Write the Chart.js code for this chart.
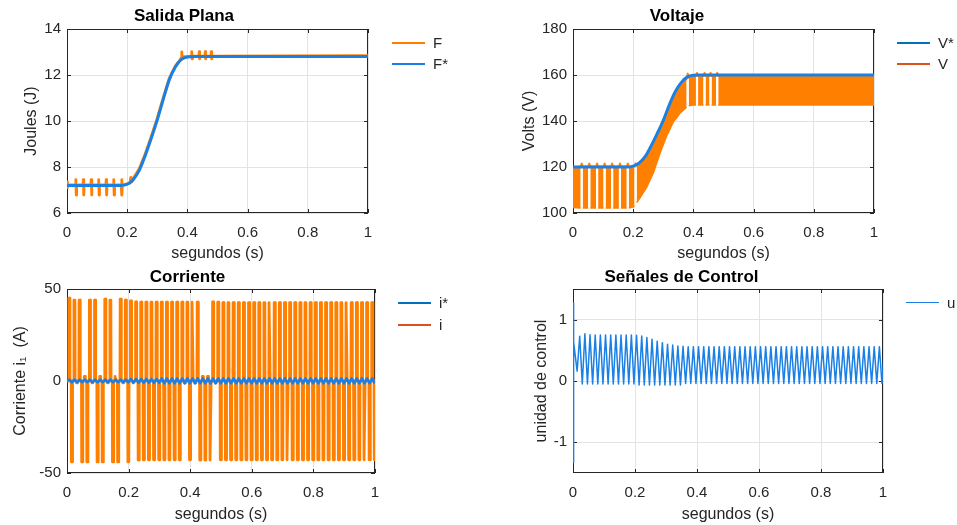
<!DOCTYPE html>
<html>
<head>
<meta charset="utf-8">
<script src="https://cdn.jsdelivr.net/npm/chart.js@4.4.1/dist/chart.umd.min.js"></script>
<style>
  body { margin: 0; background: #fff; }
  #lienzo { position: relative; width: 957px; height: 525px; font-family: 'Liberation Sans', Arial, sans-serif; color: #262626; }
  canvas { position: absolute; }
  .linea { position: absolute; height: 2px; width: 33px; }
  .texto { position: absolute; font-size: 15px; line-height: 18px; }
</style>
</head>
<body>
<div id="lienzo">
  <canvas id="salida" width="480" height="262" style="left:0;top:0"></canvas>
  <canvas id="voltaje" width="477" height="262" style="left:480px;top:0"></canvas>
  <canvas id="corriente" width="480" height="263" style="left:0;top:262px"></canvas>
  <canvas id="control" width="477" height="263" style="left:480px;top:262px"></canvas>

  <div class="linea" style="left:392px;top:42px;background:#FF8000"></div><div class="texto" style="left:433px;top:34px">F</div>
  <div class="linea" style="left:392px;top:63px;background:#1A80E6"></div><div class="texto" style="left:433px;top:55px">F*</div>

  <div class="linea" style="left:897px;top:42px;background:#0072BD"></div><div class="texto" style="left:938px;top:34px">V*</div>
  <div class="linea" style="left:897px;top:63px;background:#D95319"></div><div class="texto" style="left:938px;top:55px">V</div>

  <div class="linea" style="left:398px;top:302px;background:#0072BD"></div><div class="texto" style="left:439px;top:294px">i*</div>
  <div class="linea" style="left:398px;top:324px;background:#D95319"></div><div class="texto" style="left:439px;top:316px">i</div>

  <div class="linea" style="left:906px;top:302px;height:1px;background:#1A80E6"></div><div class="texto" style="left:947px;top:294px">u</div>
</div>
<script>
// ticks
const xTicks = [0, 0.2, 0.4, 0.6, 0.8, 1];
const fTicks = [6, 8, 10, 12, 14];
const vTicks = [100, 120, 140, 160, 180];
const iTicks = [-50, 0, 50];
const uTicks = [-1, 0, 1];

// referencias F* y V*
const refT = [0, 0.18, 0.20, 0.22, 0.24, 0.26, 0.28, 0.30, 0.32, 0.34, 0.36, 0.38, 0.40, 0.42, 1.0];
const fRef = [7.2, 7.2, 7.25, 7.45, 7.85, 8.5, 9.25, 10.05, 10.95, 11.8, 12.35, 12.68, 12.78, 12.8, 12.8];
const vRef = [120, 120, 120.4, 121.8, 124.6, 129.3, 134.6, 140.3, 147, 152.8, 156.8, 159.2, 159.9, 160, 160];

// salida plana F
const fT = [0, 0.001, 0.002,
  0.028, 0.0293, 0.0307, 0.032,
  0.053, 0.0543, 0.0557, 0.057,
  0.079, 0.0803, 0.0817, 0.083,
  0.104, 0.1053, 0.1067, 0.108,
  0.129, 0.1303, 0.1317, 0.133,
  0.154, 0.1553, 0.1567, 0.158,
  0.180, 0.1813, 0.1827, 0.184,
  0.200, 0.209, 0.212, 0.215, 0.220, 0.240, 0.260, 0.280, 0.300, 0.320, 0.340, 0.360, 0.376,
  0.380, 0.3813, 0.3827, 0.384,
  0.398,
  0.413, 0.4143, 0.4157, 0.417,
  0.438, 0.4393, 0.4407, 0.442,
  0.458, 0.4593, 0.4607, 0.462,
  0.478, 0.4793, 0.4807, 0.482,
  1.0];
const fV = [7.35, 7.1, 7.22,
  7.22, 7.45, 6.78, 7.22,
  7.22, 7.45, 6.78, 7.22,
  7.22, 7.45, 6.78, 7.22,
  7.22, 7.45, 6.78, 7.22,
  7.22, 7.45, 6.78, 7.22,
  7.22, 7.45, 6.78, 7.22,
  7.22, 7.45, 6.78, 7.22,
  7.27, 7.3, 7.55, 7.35, 7.5, 7.92, 8.58, 9.33, 10.13, 11.03, 11.86, 12.4, 12.66,
  12.75, 13.0, 12.7, 12.8,
  12.8,
  12.82, 13.02, 12.7, 12.82,
  12.82, 13.02, 12.7, 12.82,
  12.82, 13.02, 12.7, 12.82,
  12.82, 13.02, 12.7, 12.82,
  12.84];

// voltaje V: envolvente alta y baja (null = hueco)
const vT = [0, 0.0255, 0.029, 0.0325,
  0.0505, 0.054, 0.0575,
  0.0765, 0.080, 0.0835,
  0.1015, 0.105, 0.1085,
  0.1265, 0.130, 0.1335,
  0.1525, 0.156, 0.1595,
  0.1785, 0.182, 0.1855,
  0.2045, 0.208, 0.2115,
  0.222, 0.244, 0.267, 0.289, 0.311, 0.333, 0.356,
  0.3775, 0.381, 0.3845,
  0.400,
  0.4085, 0.412, 0.4155,
  0.4335, 0.437, 0.4405,
  0.4535, 0.457, 0.4605,
  0.4755, 0.479, 0.4825,
  1.0];
const vAlto = [119.8, 120.2, 121.5, 120.2,
  120.2, 121.5, 120.2,
  120.2, 121.5, 120.2,
  120.2, 121.5, 120.2,
  120.2, 121.5, 120.2,
  120.2, 121.5, 120.2,
  120.2, 121.5, 120.2,
  120.3, 121.6, 120.6,
  121.2, 124.7, 130.3, 136.3, 143.1, 150, 155.3,
  158.3, 160.6, 158.8,
  159.5,
  159.6, 160.9, 159.6,
  159.6, 160.9, 159.6,
  159.6, 160.9, 159.6,
  159.6, 160.9, 159.6,
  159.6];
const vBajo = [102.4, 102.2, null, 102.2,
  102.2, null, 102.2,
  102.2, null, 102.2,
  102.2, null, 102.2,
  102.2, null, 102.2,
  102.2, null, 102.2,
  102.2, null, 102.2,
  102.8, null, 104.5,
  106.5, 111, 117.5, 126, 133.5, 139.5, 143.5,
  146, null, 146.6,
  147,
  147, null, 147,
  147, null, 147,
  147, null, 147,
  147, null, 147,
  147];

// corriente i: pulsos positivos y negativos por ciclo
const iPos = [45, 44, 44, 2.5, 44, 44, 2.5, 44.5, 44, 2.5,
  44.5, 44, 43.5, 43, 42.8, 42.8, 42.8, 42.8, 42.8, 42.8,
  42.8, 42.8, 42.8, 42.8, 42.8, 42.8, 2.5, 2.5, 43, 42.8,
  42.6, 42.6, 42.6, 42.6, 42.6, 42.6, 42.6, 42.6, 42.6, 42.6,
  42.6, 42.6, 42.6, 42.6, 42.6, 42.6, 42.6, 42.6, 42.6, 42.6,
  42.6, 42.6, 42.6, 42.6, 42.6, 42.6, 42.6, 42.6, 42.6, 42.6];
const iNeg = [-44, -1, -44, -44, -1, -44, -44, -1, -44, -44,
  -1, -44, -1, -43, -42.8, -42.8, -42.8, -42.8, -42.8, -42.8,
  -42.8, -42.8, -1, -42.8, -1, -43, -43, -43, -1, -42.8,
  -42.8, -42.8, -42.8, -42.8, -42.8, -42.8, -42.8, -42.8, -42.8, -42.8,
  -42.8, -42.8, -42.8, -42.8, -42.8, -42.8, -42.8, -42.8, -42.8, -42.8,
  -42.8, -42.8, -42.8, -42.8, -42.8, -42.8, -42.8, -42.8, -42.8, -42.8];

// corriente de referencia i*
const iRefPos = [0.8, 0.8, 0.8, 0.8, 0.8, 0.8, 0.8, 0.8, 0.8, 0.8,
  0.8, 0.8, 1.1, 1.1, 1.1, 1.1, 1.1, 1.1, 1.4, 1.4,
  1.4, 1.4, 1.4, 1.4, 1.4, 1.4, 1.4, 1.4, 1.4, 1.4,
  1.4, 1.4, 1.4, 1.4, 1.4, 1.4, 1.4, 1.4, 1.4, 1.4,
  1.4, 1.4, 1.4, 1.4, 1.4, 1.4, 1.4, 1.4, 1.4, 1.4,
  1.4, 1.4, 1.4, 1.4, 1.4, 1.4, 1.4, 1.4, 1.4, 1.4];
const iRefNeg = [-0.7, -0.7, -0.7, -0.7, -0.7, -0.7, -0.7, -0.7, -0.7, -0.7,
  -0.7, -0.7, -1, -1, -1, -1, -1, -1, -1.3, -1.3,
  -1.3, -1.3, -1.3, -1.3, -1.3, -1.3, -1.3, -1.3, -1.3, -1.3,
  -1.3, -1.3, -1.3, -1.3, -1.3, -1.3, -1.3, -1.3, -1.3, -1.3,
  -1.3, -1.3, -1.3, -1.3, -1.3, -1.3, -1.3, -1.3, -1.3, -1.3,
  -1.3, -1.3, -1.3, -1.3, -1.3, -1.3, -1.3, -1.3, -1.3, -1.3];

// señal de control u
const uInicioT = [0, 0.0008, 0.003];
const uInicioV = [1.27, -1.33, 0.64];
const uValle = [0.16, -0.05, -0.05, -0.05, -0.05, -0.05, -0.05, -0.05, -0.05, -0.05,
  -0.05, -0.05, -0.065, -0.065, -0.065, -0.065, -0.065, -0.065, -0.065, -0.065,
  -0.065, -0.04, -0.04, -0.04, -0.04, -0.04, -0.04, -0.04, -0.04, -0.04,
  -0.04, -0.04, -0.04, -0.04, -0.04, -0.04, -0.04, -0.04, -0.04, -0.04,
  -0.04, -0.04, -0.04, -0.04, -0.04, -0.04, -0.04, -0.04, -0.04, -0.04,
  -0.04, -0.04, -0.04, -0.04, -0.04, -0.04, -0.04, -0.04, -0.04, -0.04];
const uPico = [0.73, 0.77, 0.755, 0.75, 0.75, 0.75, 0.75, 0.75, 0.75, 0.75,
  0.75, 0.745, 0.735, 0.71, 0.68, 0.65, 0.625, 0.6, 0.585, 0.57,
  0.565, 0.56, 0.56, 0.56, 0.56, 0.56, 0.56, 0.56, 0.56, 0.56,
  0.56, 0.56, 0.56, 0.56, 0.56, 0.56, 0.56, 0.56, 0.56, 0.56,
  0.56, 0.56, 0.56, 0.56, 0.56, 0.56, 0.56, 0.56, 0.56, 0.56,
  0.56, 0.56, 0.56, 0.56, 0.56, 0.56, 0.56, 0.56, 0.56, 0.56];

const PERIODO = 1 / 60;
const FUENTE = "'Liberation Sans', Arial, Helvetica, sans-serif";
const NARANJA = '#FF8000';
const AZUL = '#1A80E6';

function pares(ts, vs) {
    return ts.map((t, k) => ({ x: t, y: vs[k] }));
}

// dos valores por ciclo, alternados
function zigzag(a, b, t0, inicio) {
    const pts = inicio.slice();
    a.forEach((v, k) => {
        pts.push({ x: t0 + k * PERIODO, y: v });
        pts.push({ x: t0 + k * PERIODO + PERIODO / 2, y: b[k] });
    });
    return pts;
}

// pulsos desde cero, uno por medio ciclo
function pulsos(a, b, t0) {
    const pts = [{ x: 0, y: 0 }];
    a.forEach((v, k) => {
        [[t0 + k * PERIODO, v], [t0 + k * PERIODO + PERIODO / 2, b[k]]].forEach(([t, y]) => {
            pts.push({ x: t - 0.0022, y: 0 }, { x: t - 0.0015, y: y }, { x: t + 0.0015, y: y }, { x: t + 0.0022, y: 0 });
        });
    });
    return pts;
}

// caja y marcas interiores estilo MATLAB
const marco = {
    id: 'marco',
    beforeDatasetsDraw(chart) {
        const { ctx, chartArea: a, scales: { x, y } } = chart;
        ctx.save();
        ctx.strokeStyle = '#262626';
        ctx.lineWidth = 1;
        ctx.beginPath();
        x.ticks.forEach(t => {
            const px = Math.round(x.getPixelForValue(t.value)) + 0.5;
            ctx.moveTo(px, a.bottom); ctx.lineTo(px, a.bottom - 4);
            ctx.moveTo(px, a.top); ctx.lineTo(px, a.top + 4);
        });
        y.ticks.forEach(t => {
            const py = Math.round(y.getPixelForValue(t.value)) + 0.5;
            ctx.moveTo(a.left, py); ctx.lineTo(a.left + 4, py);
            ctx.moveTo(a.right, py); ctx.lineTo(a.right - 4, py);
        });
        ctx.stroke();
        ctx.strokeRect(a.left + 0.5, a.top + 0.5, a.width - 1, a.height - 1);
        ctx.restore();
    }
};

function grafica(id, c) {
    const ctx = document.getElementById(id).getContext('2d');
    const texto = { color: '#262626', font: { family: FUENTE, size: 15 } };
    return new Chart(ctx, {
        type: 'line',
        data: { datasets: c.datasets },
        options: {
            responsive: false,
            animation: false,
            events: [],
            layout: { padding: { left: 0, right: c.derecha, top: 0, bottom: 0 } },
            elements: { point: { radius: 0 }, line: { tension: 0, borderJoinStyle: 'round' } },
            plugins: {
                legend: { display: false },
                tooltip: { enabled: false },
                title: {
                    display: true, text: c.titulo, color: '#000',
                    font: { family: FUENTE, size: 17, weight: 'bold' },
                    padding: { top: c.tArriba, bottom: c.tAbajo }
                }
            },
            scales: {
                x: {
                    type: 'linear', min: 0, max: 1,
                    afterBuildTicks: s => { s.ticks = xTicks.map(v => ({ value: v })); },
                    afterFit: s => { s.height = c.alto - c.abajo; },
                    ticks: { ...texto, padding: 11, maxRotation: 0, autoSkip: false, callback: v => String(v) },
                    grid: { color: '#e3e3e3', drawTicks: false },
                    border: { display: false },
                    title: { display: true, text: 'segundos (s)', color: '#262626', font: { family: FUENTE, size: 16 }, padding: { top: 0, bottom: c.xtAbajo } }
                },
                y: {
                    min: c.yMin, max: c.yMax,
                    afterBuildTicks: s => { s.ticks = c.yTicks.map(v => ({ value: v })); },
                    afterFit: s => { s.width = c.izquierda; },
                    ticks: { ...texto, padding: 6, autoSkip: false, callback: v => String(v) },
                    grid: { color: '#e3e3e3', drawTicks: false },
                    border: { display: false },
                    title: { display: true, text: c.yTitulo, color: '#262626', font: { family: FUENTE, size: 16 }, padding: { top: c.ytPad, bottom: 0 } }
                }
            }
        },
        plugins: [marco]
    });
}

grafica('salida', {
    titulo: 'Salida Plana', tArriba: 5.8, tAbajo: 2.8,
    alto: 262, abajo: 213, izquierda: 67, derecha: 112,
    yMin: 6, yMax: 14, yTicks: fTicks, yTitulo: 'Joules (J)', ytPad: 22.4, xtAbajo: -1.6,
    datasets: [
        { label: 'F*', data: pares(refT, fRef), borderColor: AZUL, borderWidth: 3, cubicInterpolationMode: 'monotone' },
        { label: 'F', data: pares(fT, fV), borderColor: NARANJA, borderWidth: 2.8 }
    ]
});

grafica('voltaje', {
    titulo: 'Voltaje', tArriba: 5.8, tAbajo: 2.8,
    alto: 262, abajo: 213, izquierda: 93, derecha: 83,
    yMin: 100, yMax: 180, yTicks: vTicks, yTitulo: 'Volts (V)', ytPad: 40.4, xtAbajo: -1.6,
    datasets: [
        { label: 'V*', data: pares(refT, vRef), borderColor: AZUL, borderWidth: 3, cubicInterpolationMode: 'monotone' },
        { label: 'V', data: pares(vT, vAlto), borderColor: NARANJA, borderWidth: 2 },
        { label: 'V bajo', data: pares(vT, vBajo), borderColor: NARANJA, borderWidth: 1.5, fill: '-1', backgroundColor: NARANJA }
    ]
});

grafica('corriente', {
    titulo: 'Corriente', tArriba: 5.3, tAbajo: 1.3,
    alto: 263, abajo: 211, izquierda: 67, derecha: 105,
    yMin: -50, yMax: 50, yTicks: iTicks, yTitulo: 'Corriente i\u2081  (A)', ytPad: 11, xtAbajo: 0.4,
    datasets: [
        { label: 'i*', data: zigzag(iRefPos, iRefNeg, 0.0075, [{ x: 0, y: 0 }]), borderColor: AZUL, borderWidth: 2.6 },
        { label: 'i', data: pulsos(iPos, iNeg, 0.0075), borderColor: NARANJA, borderWidth: 2.8 }
    ]
});

grafica('control', {
    titulo: 'Señales de Control', tArriba: 5.3, tAbajo: 1.3,
    alto: 263, abajo: 211, izquierda: 93, derecha: 74,
    yMin: -1.5, yMax: 1.5, yTicks: uTicks, yTitulo: 'unidad de control', ytPad: 52.4, xtAbajo: 0.4,
    datasets: [
        { label: 'u', data: zigzag(uValle, uPico, 0.0133, pares(uInicioT, uInicioV)), borderColor: AZUL, borderWidth: 1.5 }
    ]
});
</script>
</body>
</html>
